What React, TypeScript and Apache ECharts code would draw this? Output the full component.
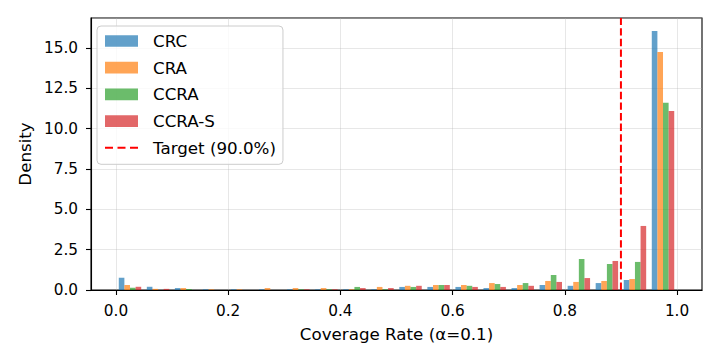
import React, { useEffect, useRef } from "react";
import * as echarts from "echarts";

const seriesNames = ["CRC", "CRA", "CCRA", "CCRA-S"];
const colors = ["rgba(31,119,180,0.7)", "rgba(255,127,14,0.7)", "rgba(44,160,44,0.7)", "rgba(214,39,40,0.7)"];
const binStart = 0;
const binWidth = 0.05;
const crc = [0.76, 0.2, 0.12, 0.04, 0.04, 0.04, 0.04, 0.04, 0.04, 0.04, 0.19, 0.19, 0.19, 0.12, 0.12, 0.31, 0.26, 0.43, 0.62, 16.06];
const cra = [0.31, 0.07, 0.12, 0.04, 0.04, 0.12, 0.12, 0.12, 0.04, 0.19, 0.26, 0.31, 0.31, 0.43, 0.31, 0.56, 0.5, 0.56, 0.68, 14.76];
const ccra = [0.14, 0, 0.06, 0, 0, 0, 0.04, 0.04, 0.19, 0.04, 0.19, 0.31, 0.26, 0.37, 0.43, 0.93, 1.92, 1.61, 1.74, 11.6];
const ccraS = [0.2, 0.07, 0, 0, 0, 0, 0.04, 0.04, 0.12, 0.12, 0.26, 0.31, 0.19, 0.19, 0.26, 0.5, 0.74, 1.8, 3.97, 11.1];
const target = 0.9;
const targetLabel = "Target (90.0%)";
const xTicks = [0, 0.2, 0.4, 0.6, 0.8, 1.0];
const yMax = 16.86;
const xMin = -0.0445;
const xMax = 1.0445;

const FONT = "DejaVu Sans";
const LABEL_SIZE = 16.7;
const TICK_SIZE = 15.3;
const dashIcon =
  "path://M0,0h0.01v0.01h-0.01z M32.99,11.69h0.01v0.01h-0.01z M0,4.85h8v2h-8z M12.5,4.85h8v2h-8z M25,4.85h8v2h-8z";

export default function App() {
  const ref = useRef<HTMLDivElement>(null);
  useEffect(() => {
    if (!ref.current) return;
    const chart = echarts.init(ref.current, null, { renderer: "svg" });
    const all = [crc, cra, ccra, ccraS];
    const n = all.length;
    const barSeries = all.map((vals, k) => ({
      name: seriesNames[k],
      type: "custom",
      itemStyle: { color: colors[k] },
      encode: { x: [0, 1], y: 2 },
      data: vals.map((v, i) => {
        const left = binStart + i * binWidth + binWidth * (0.1 + (0.8 / n) * k);
        return [left, left + (0.8 / n) * binWidth, v];
      }),
      renderItem: (params: any, api: any) => {
        const p0 = api.coord([api.value(0), 0]);
        const p1 = api.coord([api.value(1), api.value(2)]);
        return {
          type: "rect",
          shape: { x: p0[0], y: p1[1], width: p1[0] - p0[0], height: p0[1] - p1[1] },
          style: { fill: colors[k] },
        };
      },
      z: 3,
    }));
    const targetSeries = {
      name: targetLabel,
      type: "custom",
      itemStyle: { color: "#ff0000" },
      encode: { x: 0, y: 1 },
      data: [[target, 0]],
      renderItem: (params: any, api: any) => {
        const cs = params.coordSys;
        const p = api.coord([api.value(0), 0]);
        return {
          type: "line",
          shape: { x1: p[0], y1: cs.y + cs.height, x2: p[0], y2: cs.y },
          style: { stroke: "#ff0000", lineWidth: 2, lineDash: [7.4, 3.2], fill: null },
        };
      },
      z: 4,
    };
    const option: any = {
      animation: false,
      textStyle: { fontFamily: FONT },
      grid: { left: 91, right: 18, top: 18, bottom: 70, show: true, borderColor: "#000", borderWidth: 1.1, backgroundColor: "transparent" },
      legend: {
        left: 97,
        top: 26,
        orient: "vertical",
        itemWidth: 33,
        itemHeight: 11.7,
        itemGap: 9.7,
        padding: [6.5, 7, 8, 8],
        backgroundColor: "rgba(255,255,255,0.8)",
        borderColor: "#cccccc",
        borderWidth: 1,
        borderRadius: 4,
        textStyle: { fontSize: LABEL_SIZE, fontFamily: FONT, color: "#000", padding: [0, 0, 0, 10] },
        data: [
          ...seriesNames.map((nm) => ({ name: nm, icon: "rect" })),
          { name: targetLabel, icon: dashIcon },
        ],
      },
      xAxis: {
        type: "value",
        min: xMin,
        max: xMax,
        name: "Coverage Rate (α=0.1)",
        nameLocation: "middle",
        nameGap: 35,
        nameTextStyle: { fontSize: LABEL_SIZE, fontFamily: FONT, color: "#000" },
        axisLine: { show: true, onZero: false, lineStyle: { color: "#000", width: 1.1 } },
        axisTick: { show: true, length: 5, lineStyle: { color: "#000", width: 1.1 }, customValues: xTicks },
        axisLabel: { customValues: xTicks, formatter: (v: number) => v.toFixed(1), fontSize: TICK_SIZE, fontFamily: FONT, color: "#000", margin: 13 },
        splitLine: { show: true, lineStyle: { color: "rgba(176,176,176,0.3)", width: 1 } },
      },
      yAxis: {
        type: "value",
        min: 0,
        max: yMax,
        interval: 2.5,
        name: "Density",
        nameLocation: "middle",
        nameGap: 58,
        nameTextStyle: { fontSize: LABEL_SIZE, fontFamily: FONT, color: "#000" },
        axisLine: { show: true, onZero: false, lineStyle: { color: "#000", width: 1.1 } },
        axisTick: { show: true, length: 5, lineStyle: { color: "#000", width: 1.1 } },
        axisLabel: { formatter: (v: number) => v.toFixed(1), fontSize: TICK_SIZE, fontFamily: FONT, color: "#000", margin: 13, showMaxLabel: false },
        splitLine: { show: true, lineStyle: { color: "rgba(176,176,176,0.3)", width: 1 } },
      },
      series: [...barSeries, targetSeries],
    };
    chart.setOption(option);
    return () => chart.dispose();
  }, []);
  return <div ref={ref} style={{ width: 720, height: 360, position: "absolute", left: 0, top: 0 }} />;
}
